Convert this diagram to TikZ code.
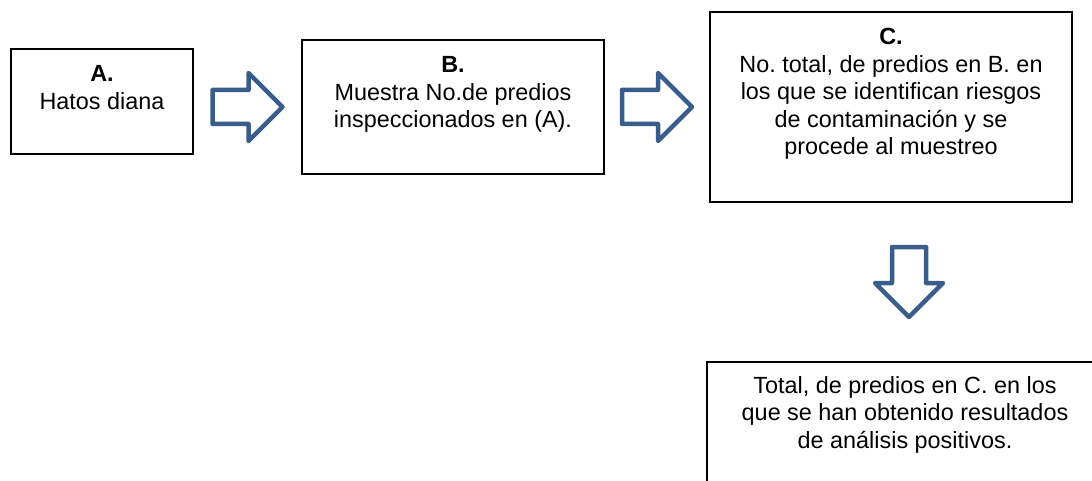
\documentclass[tikz,border=0pt]{standalone}
\usepackage{fontspec}
\setmainfont{Liberation Sans}
\usetikzlibrary{calc}
\definecolor{arrowblue}{RGB}{56,93,138}
\frenchspacing
\newcommand{\boxtxt}[3]{\parbox[c][#2][t]{#1}{\centering\rule{0pt}{33pt}#3}}
\tikzset{
  flowbox/.style={draw=black, line width=1.5pt, inner sep=0pt, fill=white},
  blockarrow/.pic={
    \draw[arrowblue, line width=4.5pt, line join=round, fill=white]
      (-35,-17)--(1,-17)--(1,-34)--(35,0)--(1,34)--(1,17)--(-35,17)--cycle;
  }
}
\begin{document}
\begin{tikzpicture}[x=1pt, y=-1pt, font=\fontsize{23.4pt}{27.5pt}\selectfont]
\useasboundingbox (0,0) rectangle (1092,481);
\clip (0,0) rectangle (1092,481);
%\draw[step=50,gray,very thin] (0,0) grid (1092,481);
\node[flowbox] (A) at (102,101.5) {\boxtxt{182pt}{105pt}{\textbf{A.}\\Hatos diana}};
\node[flowbox] (B) at (453,107) {\boxtxt{302pt}{134pt}{\textbf{B.}\\Muestra No.de predios\\inspeccionados en (A).}};
\node[flowbox] (C) at (891,107) {\boxtxt{362pt}{190pt}{\textbf{C.}\\No. total, de predios en B. en\\los que se identifican riesgos\\de contaminación y se\\procede al muestreo}};
\node[flowbox] (D) at (905,429) {\parbox[c][134pt][t]{396pt}{\centering\rule{0pt}{31pt}Total, de predios en C. en los\\que se han obtenido resultados\\de análisis positivos.}};
\coordinate (ab) at ($(A.east)!0.5!(B.west)$);
\coordinate (bc) at ($(B.east)!0.5!(C.west)$);
\coordinate (cd) at ($(C.south)!0.5!(D.north)+(11,0)$);
\pic at (ab |- B) {blockarrow};
\pic at (bc) {blockarrow};
\pic[rotate=-90] at (cd) {blockarrow};
\end{tikzpicture}
\end{document}
